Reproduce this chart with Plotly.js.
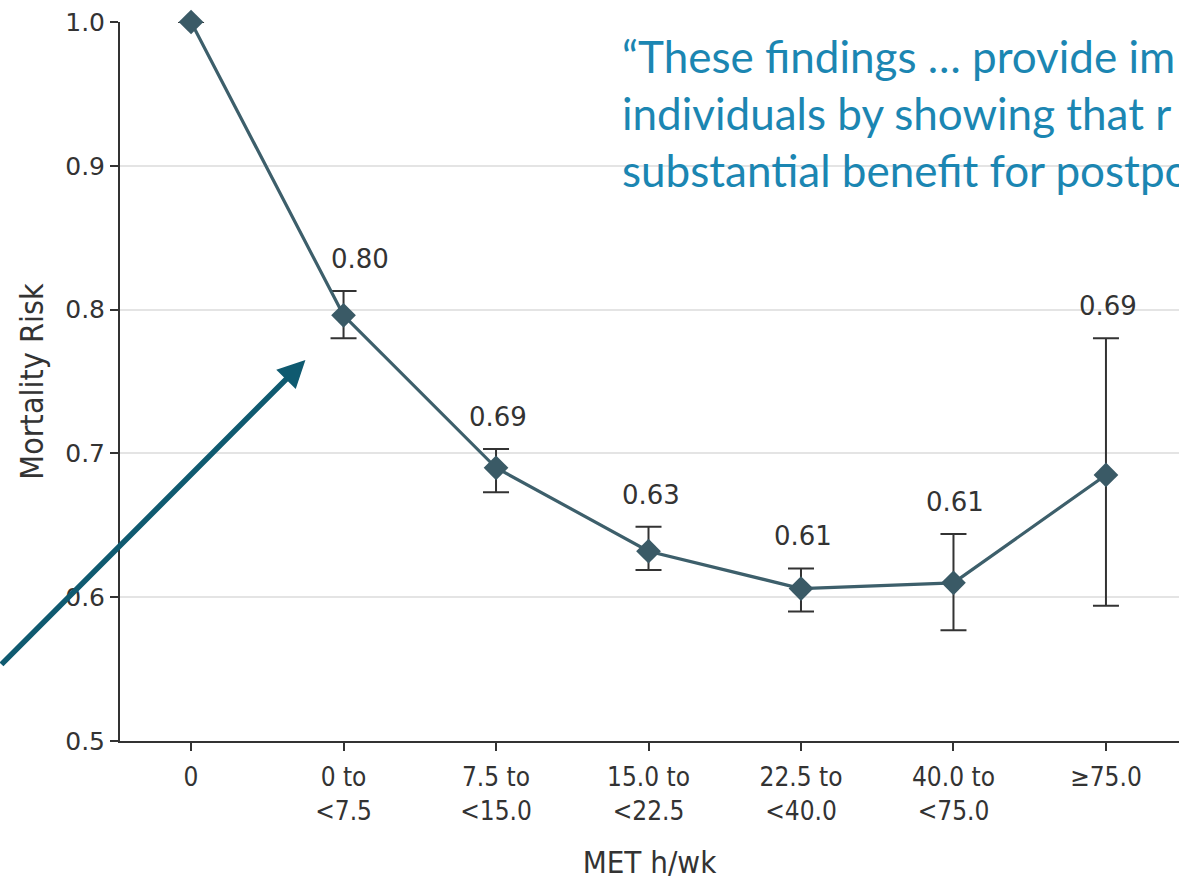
<!DOCTYPE html>
<html>
<head>
<meta charset="utf-8">
<script src="https://cdn.plot.ly/plotly-3.0.1.min.js"></script>
<style>
  html, body { margin: 0; padding: 0; background: #ffffff; }
  #chart { width: 1179px; height: 882px; }
</style>
</head>
<body>
<div id="chart"></div>
<script>
// Physical activity level (MET hours per week) and relative mortality risk
const categories = ['0', '0 to<br>&lt;7.5', '7.5 to<br>&lt;15.0', '15.0 to<br>&lt;22.5',
                    '22.5 to<br>&lt;40.0', '40.0 to<br>&lt;75.0', '≥75.0'];
const riskValues = [1.0, 0.796, 0.690, 0.632, 0.606, 0.610, 0.685];
const ciUpper    = [null, 0.813, 0.703, 0.649, 0.620, 0.644, 0.780];
const ciLower    = [null, 0.780, 0.673, 0.619, 0.590, 0.577, 0.594];
const valueLabels = ['', '0.80', '0.69', '0.63', '0.61', '0.61', '0.69'];

const quoteLines = [
  '“These findings … provide im',
  'individuals by showing that r',
  'substantial benefit for postpo'
];

const idx = categories.map((_, i) => i);
const errPlus  = riskValues.map((v, i) => ciUpper[i] === null ? 0 : ciUpper[i] - v);
const errMinus = riskValues.map((v, i) => ciLower[i] === null ? 0 : v - ciLower[i]);

const trace = {
  x: idx,
  y: riskValues,
  type: 'scatter',
  mode: 'lines+markers',
  line: { color: '#3d5f6b', width: 3.2 },
  marker: { symbol: 'diamond', size: 19, color: '#3a5a66' },
  error_y: {
    type: 'data', symmetric: false,
    array: errPlus, arrayminus: errMinus,
    color: '#333333', thickness: 2, width: 13
  },
  cliponaxis: false,
  hoverinfo: 'x+y'
};

const labelFont = { family: 'DejaVu Sans', size: 26, color: '#333333' };
const annotations = [];
valueLabels.forEach((t, i) => {
  if (!t) return;
  annotations.push({
    x: i, y: ciUpper[i], xref: 'x', yref: 'y',
    text: t, showarrow: false,
    xanchor: 'center', yanchor: 'bottom',
    xshift: i === 1 ? 16 : 2, yshift: 15,
    font: labelFont
  });
});

// quoted conclusion in the upper right
annotations.push({
  xref: 'paper', yref: 'paper', x: 0.472, y: 1.0, yshift: -6,
  xanchor: 'left', yanchor: 'top', align: 'left',
  text: quoteLines.join('<br>'), showarrow: false,
  font: { family: 'Lato', size: 44, color: '#1b86b2' }
});

// pointer arrow toward the first active group
annotations.push({
  x: 0.75, y: 0.765, xref: 'x', yref: 'y',
  ax: -312, ay: 306, axref: 'pixel', ayref: 'pixel',
  text: '', showarrow: true,
  arrowhead: 2, arrowsize: 1, arrowwidth: 5.5, standoff: 0,
  arrowcolor: '#0f5a70'
});

const layout = {
  width: 1179, height: 882,
  margin: { l: 120, r: 0, t: 22, b: 141 },
  paper_bgcolor: '#ffffff', plot_bgcolor: '#ffffff',
  showlegend: false,
  xaxis: {
    type: 'linear',
    range: [-0.466, 6.479],
    tickmode: 'array', tickvals: idx, ticktext: categories,
    showgrid: false, zeroline: false,
    showline: true, linecolor: '#333333', linewidth: 2,
    ticks: 'outside', ticklen: 8, tickwidth: 2, tickcolor: '#333333',
    ticklabelstandoff: 4,
    tickfont: { family: 'Liberation Sans Narrow, DejaVu Sans Condensed, Liberation Sans', size: 26, color: '#333333' },
    title: { text: 'MET h/wk', standoff: 26,
             font: { family: 'Liberation Sans Narrow, DejaVu Sans Condensed, Liberation Sans', size: 31, color: '#333333' } }
  },
  yaxis: {
    range: [0.5, 1.0],
    tickvals: [0.5, 0.6, 0.7, 0.8, 0.9, 1.0],
    ticktext: ['0.5', '0.6', '0.7', '0.8', '0.9', '1.0'],
    showgrid: true, gridcolor: '#e4e4e4', gridwidth: 2,
    zeroline: false,
    showline: true, linecolor: '#333333', linewidth: 2,
    ticks: 'outside', ticklen: 8, tickwidth: 2, tickcolor: '#333333',
    tickfont: { family: 'DejaVu Sans', size: 25, color: '#333333' },
    title: { text: 'Mortality Risk', standoff: 12,
             font: { family: 'Liberation Sans Narrow, DejaVu Sans Condensed, Liberation Sans', size: 32, color: '#333333' } }
  },
  annotations: annotations
};

Plotly.newPlot('chart', [trace], layout, { displayModeBar: false, staticPlot: true });
</script>
</body>
</html>
